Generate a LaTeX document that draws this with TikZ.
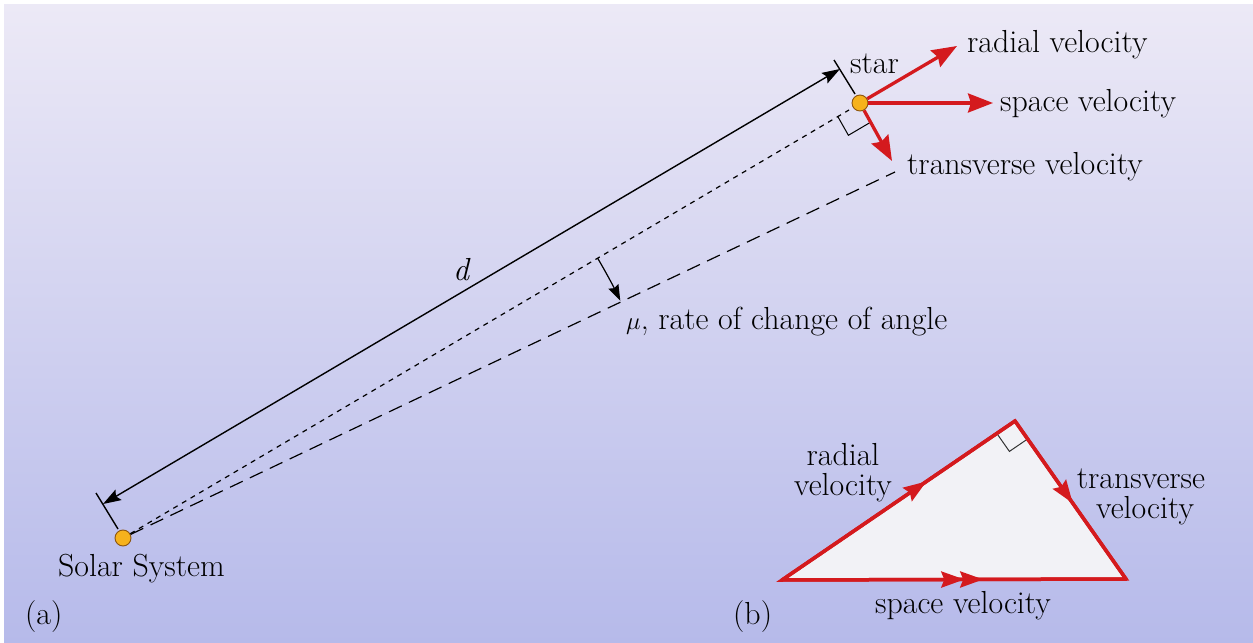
\documentclass[tikz,border=0pt]{standalone}
\usetikzlibrary{arrows.meta,calc,decorations.markings}
\definecolor{vred}{RGB}{212,26,30}
\definecolor{bgtop}{RGB}{236,233,246}
\definecolor{bgbot}{RGB}{182,186,234}
\definecolor{dotfill}{RGB}{246,178,28}
\definecolor{dotline}{RGB}{140,85,15}
\definecolor{trifill}{RGB}{242,242,246}
\tikzset{
  dtip/.tip={Stealth[length=18bp,width=12bp,inset=3bp]},
  rtip/.tip={Stealth[length=23bp,width=16bp,inset=3bp]}
}
\begin{document}
\begin{tikzpicture}[x=1bp,y=-1bp,
  lbl/.style={font=\rmfamily\fontsize{32}{38}\selectfont, inner sep=0pt, text=black},
  dotnode/.style={circle, draw=dotline, line width=0.9bp, fill=dotfill, minimum size=16bp, inner sep=0pt},
  vec/.style={vred, line width=3.3bp, -{Stealth[length=25bp,width=19bp,inset=3bp]}},
  thinline/.style={black, line width=1.4bp},
  edgered/.style={vred, line width=3.5bp, line cap=round},
  midarrow/.style={postaction={decorate, decoration={markings,
     mark=at position #1 with {\arrow{rtip}}}}}
]
\useasboundingbox (0,0) rectangle (1253,643);
\fill[white] (0,0) rectangle (1253,643);
\shade[top color=bgtop, bottom color=bgbot] (4,5) rectangle (1253,643);

% nodes
\node[dotnode] (sun) at (123,538) {};
\node[dotnode] (star) at (860,103) {};

% distance arrow with ticks
\coordinate (dS) at (103,504);
\coordinate (dT) at (840,69);
\coordinate (tS1) at (118,529);
\coordinate (tS2) at (96,493);
\coordinate (tT1) at (855,94);
\coordinate (tT2) at (834,60);
\draw[thinline] (tS1) -- (tS2);
\draw[thinline] (tT1) -- (tT2);
\draw[thinline, dtip-dtip] (dS) -- (dT);
\node[lbl, font=\rmfamily\fontsize{32}{38}\selectfont\itshape] (dlbl) at (461,270) {d};

% line of sight (short dashes) and transverse direction (long dashes)
\coordinate (losEnd) at (849,110);
\coordinate (trEnd) at (895,172);
\draw[thinline, line width=1.2bp, dash pattern=on 5bp off 5bp] (sun) -- (losEnd);
\draw[thinline, line width=1.2bp, dash pattern=on 14bp off 8bp] (sun) -- (trEnd);

% right angle mark at star
\coordinate (ra1) at (837.6,116.2);
\coordinate (ra2) at (848.4,135.3);
\coordinate (ra3) at (870.8,122.1);
\draw[black, line width=1bp] (ra1) -- (ra2) -- (ra3);

% velocity vectors
\coordinate (radTip) at (957,46);
\coordinate (spTip) at (993,103);
\coordinate (trTip) at (892,161);
\draw[vec] (star) -- (radTip);
\draw[vec] (star) -- (spTip);
\draw[vec] (star) -- (trTip);

\node[lbl, anchor=base west] (starlbl) at (850,74) {star};
\node[lbl, anchor=base west] (radlbl) at (967,53) {radial velocity};
\node[lbl, anchor=base west] (splbl) at (1000,112) {space velocity};
\node[lbl, anchor=base west] (trlbl) at (907,175) {transverse velocity};

% proper motion angle
\coordinate (muS) at ($(sun)+(-30.5:551)$);
\draw[black, line width=1.2bp, -{Stealth[length=16bp,width=11bp,inset=2bp]}]
  (muS) arc[start angle=-30.5, end angle=-25.5, radius=551];
\node[lbl, anchor=base west] (mulbl) at (626,330) {$\mu$, rate of change of angle};

\node[lbl, anchor=base west] (sslbl) at (58,576) {Solar System};
\node[lbl, anchor=base west] (alab) at (25,624) {(a)};
\node[lbl, anchor=base west] (blab) at (733,624) {(b)};

% triangle (b)
\coordinate (A) at (782,580);
\coordinate (B) at (1015,421);
\coordinate (C) at (1126,579);
\fill[trifill] (A) -- (B) -- (C) -- cycle;
\draw[black!80, line width=1bp] (996.8,433.4) -- (1009.4,451.4) -- (1027.6,439);
\draw[edgered, midarrow=0.62] (A) -- (B);
\draw[edgered, midarrow=0.52] (B) -- (C);
\draw[edgered, postaction={decorate, decoration={markings,
   mark=at position 0.53 with {\arrow{rtip}},
   mark=at position 0.585 with {\arrow{rtip}}}}] (A) -- (C);
\draw[vred, line width=3.5bp, line join=miter] (A) -- (B) -- (C) -- cycle;

\node[lbl, anchor=base] (tr1) at (843,465) {radial};
\node[lbl, anchor=base] (tr2) at (843,495) {velocity};
\node[lbl, anchor=base] (tt1) at (1141,488) {transverse};
\node[lbl, anchor=base] (tt2) at (1145,518) {velocity};
\node[lbl, anchor=base] (ts) at (963,613) {space velocity};
\end{tikzpicture}
\end{document}
